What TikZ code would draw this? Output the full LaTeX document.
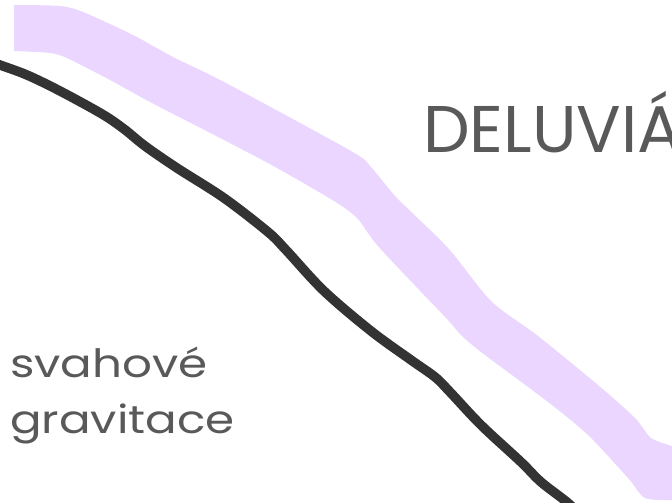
\documentclass[tikz,border=0pt]{standalone}
\usepackage{fontspec}
\setmainfont{Poppins}
\definecolor{lav}{RGB}{234,214,254}
\definecolor{ink}{RGB}{51,51,51}
\definecolor{txt}{RGB}{89,89,89}
\tikzset{
  band/.style={fill=lav},
  slope/.style={draw=ink, line width=9.5pt, line join=round},
  lbl/.style={anchor=base west, inner sep=0pt, text=txt}
}
\begin{document}
\begin{tikzpicture}[x=1pt,y=-1pt]
\useasboundingbox (0,0) rectangle (672,503);
\clip (0,0) rectangle (672,503);
% lavender band (deluvium)
\fill[band] (14,5) -- plot[smooth, tension=0.45] coordinates {(14,5) (60,6) (83,12) (133,35) (173,57) (224,82) (351,151) (371,167) (397,198) (448,248) (491,301) (538,336) (598,385) (635,418) (651,438) (672,446)}
  -- (690,446) -- (690,502) -- plot[smooth, tension=0.45] coordinates {(672,500) (645,498) (628,478) (588,435) (548,402) (481,352) (461,335) (448,320) (424,295) (377,245) (357,218) (334,201) (277,168) (224,140) (150,102) (110,80) (67,58) (50,53) (14,51)} -- cycle;
% slope surface line
\draw[slope] plot[smooth, tension=0.55] coordinates {(-10,61) (0,65) (27,75) (60,91) (102,114) (124,129) (145,146) (177,168) (224,198) (268,232) (286,250) (324,291) (371,331) (411,360) (435,377) (450,392) (481,425) (521,462) (541,482) (568,503) (585,520)};
% labels
\node[lbl, font=\fontsize{66}{70}\selectfont] (title) at (423,152) {DELUVIÁ};
\node[lbl, font=\fontsize{39}{56}\selectfont, xscale=1.2] (l1) at (10,377) {svahové};
\node[lbl, font=\fontsize{39}{56}\selectfont, xscale=1.2] (l2) at (10,433) {gravitace};
\end{tikzpicture}
\end{document}
